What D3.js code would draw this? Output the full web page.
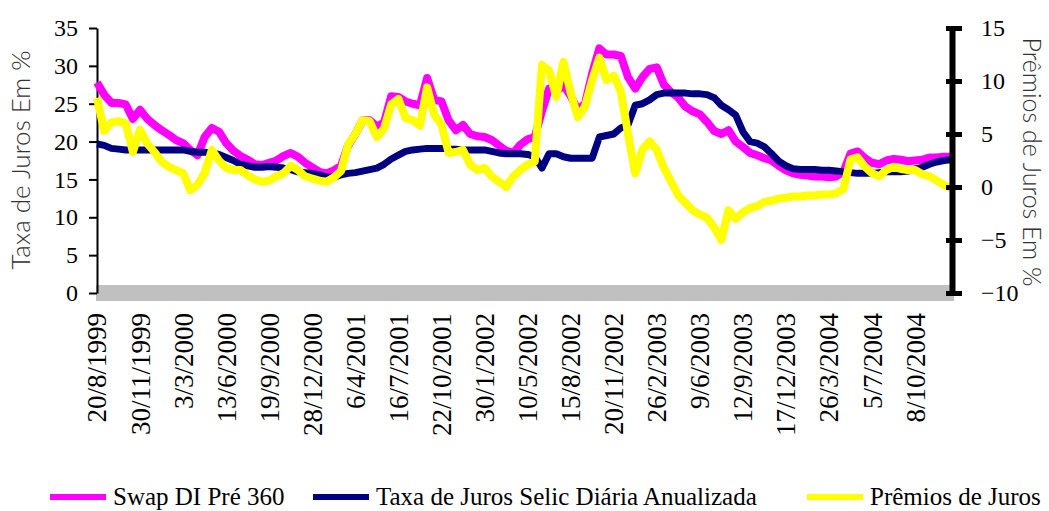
<!DOCTYPE html>
<html>
<head>
<meta charset="utf-8">
<script src="https://cdn.jsdelivr.net/npm/d3@7"></script>
<style>
  body { margin: 0; background: #fff; }
  svg { display: block; }
</style>
</head>
<body>
<svg id="chart" width="1049" height="511"></svg>
<script>
const serif = "'Liberation Serif', 'DejaVu Serif', serif";
const sans = "Lato, 'Open Sans', sans-serif";

// tick labels on the category axis (one every 6 points)
const dateLabels = ['20/8/1999', '30/11/1999', '3/3/2000', '13/6/2000', '19/9/2000',
  '28/12/2000', '6/4/2001', '16/7/2001', '22/10/2001', '30/1/2002', '10/5/2002',
  '15/8/2002', '20/11/2002', '26/2/2003', '9/6/2003', '12/9/2003', '17/12/2003',
  '26/3/2004', '5/7/2004', '8/10/2004'];
const labelEvery = 6;

// Swap DI Pré 360 (left axis, %)
const swap = [
  27.8, 26.2, 25.1, 25.1, 24.9, 23.0, 24.2, 23.0, 22.2, 21.5, 20.9, 20.2,
  19.8, 18.9, 18.2, 20.6, 21.8, 21.3, 19.8, 18.8, 18.1, 17.6, 17.0, 16.9,
  17.2, 17.5, 18.1, 18.5, 18.0, 17.2, 16.6, 16.0, 15.8, 16.2, 16.8, 19.5,
  21.0, 22.8, 22.8, 22.0, 22.5, 26.0, 25.9, 25.3, 25.0, 24.8, 28.4, 25.5,
  25.3, 22.8, 21.5, 22.2, 21.0, 20.7, 20.6, 20.2, 19.5, 18.8, 18.5, 19.6,
  20.3, 20.6, 24.0, 27.0, 26.5, 27.5, 26.0, 24.2, 25.0, 29.0, 32.3, 31.5,
  31.5, 31.3, 28.5, 27.0, 28.5, 29.6, 29.8, 27.5, 26.5, 25.8, 24.6, 24.0,
  23.6, 22.6, 21.4, 21.0, 21.5, 20.0, 19.3, 18.5, 18.2, 17.8, 17.5, 16.8,
  16.2, 15.8, 15.6, 15.5, 15.4, 15.4, 15.3, 15.4, 16.0, 18.4, 18.7, 17.8,
  17.2, 17.0, 17.5, 17.7, 17.6, 17.4, 17.5, 17.6, 17.9, 17.9, 18.0, 18.0
];

// Taxa de Juros Selic Diária Anualizada (left axis, %)
const selic = [
  19.7, 19.5, 19.1, 19.0, 18.9, 18.9, 18.9, 18.9, 18.9, 18.9, 18.9, 18.9,
  18.9, 18.7, 18.6, 18.6, 18.5, 18.3, 17.9, 17.5, 17.0, 16.8, 16.6, 16.6,
  16.7, 16.6, 16.5, 16.3, 16.0, 15.9, 15.8, 15.6, 15.3, 15.3, 15.6, 15.8,
  15.9, 16.1, 16.3, 16.5, 17.0, 17.7, 18.2, 18.7, 18.9, 19.0, 19.1, 19.1,
  19.1, 19.0, 19.0, 18.9, 18.9, 18.9, 18.9, 18.7, 18.5, 18.4, 18.4, 18.4,
  18.3, 18.0, 16.5, 18.4, 18.4, 18.0, 17.8, 17.8, 17.8, 17.8, 20.6, 20.8,
  21.0, 21.8, 22.2, 24.8, 25.0, 25.5, 26.2, 26.4, 26.4, 26.4, 26.4, 26.3,
  26.3, 26.2, 25.8, 24.8, 24.2, 23.5, 21.3, 20.0, 19.8, 19.3, 18.4, 17.4,
  16.8, 16.4, 16.3, 16.3, 16.3, 16.2, 16.2, 16.1, 16.0, 15.9, 15.8, 15.8,
  15.8, 15.9, 16.0, 16.0, 16.0, 16.1, 16.4, 16.6, 17.0, 17.3, 17.5, 17.6
];

// Prêmios de Juros (right axis, %)
const premio = [
  8.4, 5.3, 6.1, 6.2, 6.0, 3.3, 5.4, 4.1, 3.3, 2.4, 1.9, 1.6,
  1.3, -0.3, 0.2, 1.3, 3.5, 2.5, 1.8, 1.6, 1.6, 1.1, 0.7, 0.5,
  0.6, 1.0, 1.3, 2.0, 1.6, 1.0, 0.8, 0.6, 0.5, 0.9, 1.5, 4.0,
  5.0, 6.3, 6.2, 4.7, 5.5, 7.8, 8.3, 6.5, 6.3, 5.8, 9.4, 6.8,
  5.9, 3.2, 3.3, 3.5, 2.1, 1.6, 1.8, 1.0, 0.5, 0.0, 1.0, 1.6,
  2.1, 2.4, 11.5, 11.0, 8.5, 11.8, 8.9, 6.6, 7.6, 10.1, 12.2, 10.1,
  10.5, 9.0, 5.0, 1.3, 3.5, 4.3, 3.5, 1.8, 0.5, -0.8, -1.5, -2.2,
  -2.6, -2.9, -3.8, -5.0, -2.2, -3.0, -2.4, -2.0, -1.8, -1.4, -1.3, -1.1,
  -1.0, -0.9, -0.9, -0.8, -0.8, -0.7, -0.7, -0.6, -0.2, 2.6, 2.8, 1.9,
  1.3, 1.0, 1.6, 1.9, 1.7, 1.6, 1.6, 1.2, 1.0, 0.6, 0.2, -0.1
];

const leftTicks = [0, 5, 10, 15, 20, 25, 30, 35];
const rightTicks = [-10, -5, 0, 5, 10, 15];

const svg = d3.select('#chart');

const x = d3.scaleLinear().domain([0, swap.length - 1]).range([97, 951]);
const yLeft = d3.scaleLinear().domain([0, 35]).range([293, 28]);
const yRight = d3.scaleLinear().domain([-10, 15]).range([293, 28]);

// grey category axis band at zero
svg.append('line')
  .attr('x1', 96)
  .attr('x2', 954)
  .attr('y1', yLeft(0))
  .attr('y2', yLeft(0))
  .attr('stroke', '#c0c0c0')
  .attr('stroke-width', 16);

// left axis
const leftAxis = svg.append('g')
  .attr('transform', 'translate(97,0)')
  .call(d3.axisLeft(yLeft).tickValues(leftTicks).tickSizeInner(8).tickSizeOuter(0).tickPadding(11));
leftAxis.select('.domain').attr('stroke', '#000').attr('stroke-width', 2);
leftAxis.selectAll('.tick line').attr('stroke', '#000').attr('stroke-width', 2);
leftAxis.selectAll('.tick text')
  .style('font-family', serif)
  .style('font-size', '24px')
  .attr('fill', '#000');

// series
const lineLeft = d3.line().x((d, i) => x(i)).y(d => yLeft(d));
const lineRight = d3.line().x((d, i) => x(i)).y(d => yRight(d));

svg.append('path')
  .datum(swap)
  .attr('d', lineLeft)
  .attr('fill', 'none')
  .attr('stroke', '#ff00ff')
  .attr('stroke-width', 8)
  .attr('stroke-linejoin', 'round');

svg.append('path')
  .datum(selic)
  .attr('d', lineLeft)
  .attr('fill', 'none')
  .attr('stroke', '#000080')
  .attr('stroke-width', 7)
  .attr('stroke-linejoin', 'round');

svg.append('path')
  .datum(premio)
  .attr('d', lineRight)
  .attr('fill', 'none')
  .attr('stroke', '#ffff00')
  .attr('stroke-width', 8)
  .attr('stroke-linejoin', 'round');

// right axis
const rightAxis = svg.append('g')
  .attr('transform', 'translate(952,0)')
  .call(d3.axisRight(yRight).tickValues(rightTicks).tickSizeOuter(0).tickPadding(23));
rightAxis.select('.domain').attr('stroke', '#000').attr('stroke-width', 6);
rightAxis.selectAll('.tick line')
  .attr('x1', -6)
  .attr('x2', 10)
  .attr('stroke', '#000')
  .attr('stroke-width', 5);
rightAxis.selectAll('.tick text')
  .style('font-family', serif)
  .style('font-size', '24px')
  .attr('fill', '#000');

// x labels
svg.append('g')
  .selectAll('text')
  .data(dateLabels)
  .enter()
  .append('text')
  .style('font-family', serif)
  .style('font-size', '27px')
  .attr('text-anchor', 'end')
  .attr('dy', '0.35em')
  .attr('transform', (d, i) => 'translate(' + x(i * labelEvery) + ',313) rotate(-90)')
  .text(d => d);

// axis titles
svg.append('text')
  .style('font-family', sans)
  .style('font-weight', 300)
  .style('font-size', '26px')
  .attr('fill', '#333')
  .attr('text-anchor', 'middle')
  .attr('transform', 'translate(30,160) rotate(-90)')
  .text('Taxa de Juros Em %');

svg.append('text')
  .style('font-family', sans)
  .style('font-weight', 300)
  .style('font-size', '25px')
  .attr('fill', '#333')
  .attr('text-anchor', 'middle')
  .attr('transform', 'translate(1023,162) rotate(90)')
  .text('Prêmios de Juros Em %');

// legend
const legendItems = [
  { name: 'Swap DI Pré 360', color: '#ff00ff', x: 50 },
  { name: 'Taxa de Juros Selic Diária Anualizada', color: '#000080', x: 313 },
  { name: 'Prêmios de Juros', color: '#ffff00', x: 807 }
];

const legend = svg.append('g')
  .selectAll('g')
  .data(legendItems)
  .enter()
  .append('g')
  .attr('transform', d => 'translate(' + d.x + ',497)');

legend.append('line')
  .attr('x1', 0)
  .attr('x2', 56)
  .attr('stroke', d => d.color)
  .attr('stroke-width', 6);

legend.append('text')
  .style('font-family', serif)
  .style('font-size', '25px')
  .attr('x', 63)
  .attr('dy', '0.33em')
  .text(d => d.name);
</script>
</body>
</html>
